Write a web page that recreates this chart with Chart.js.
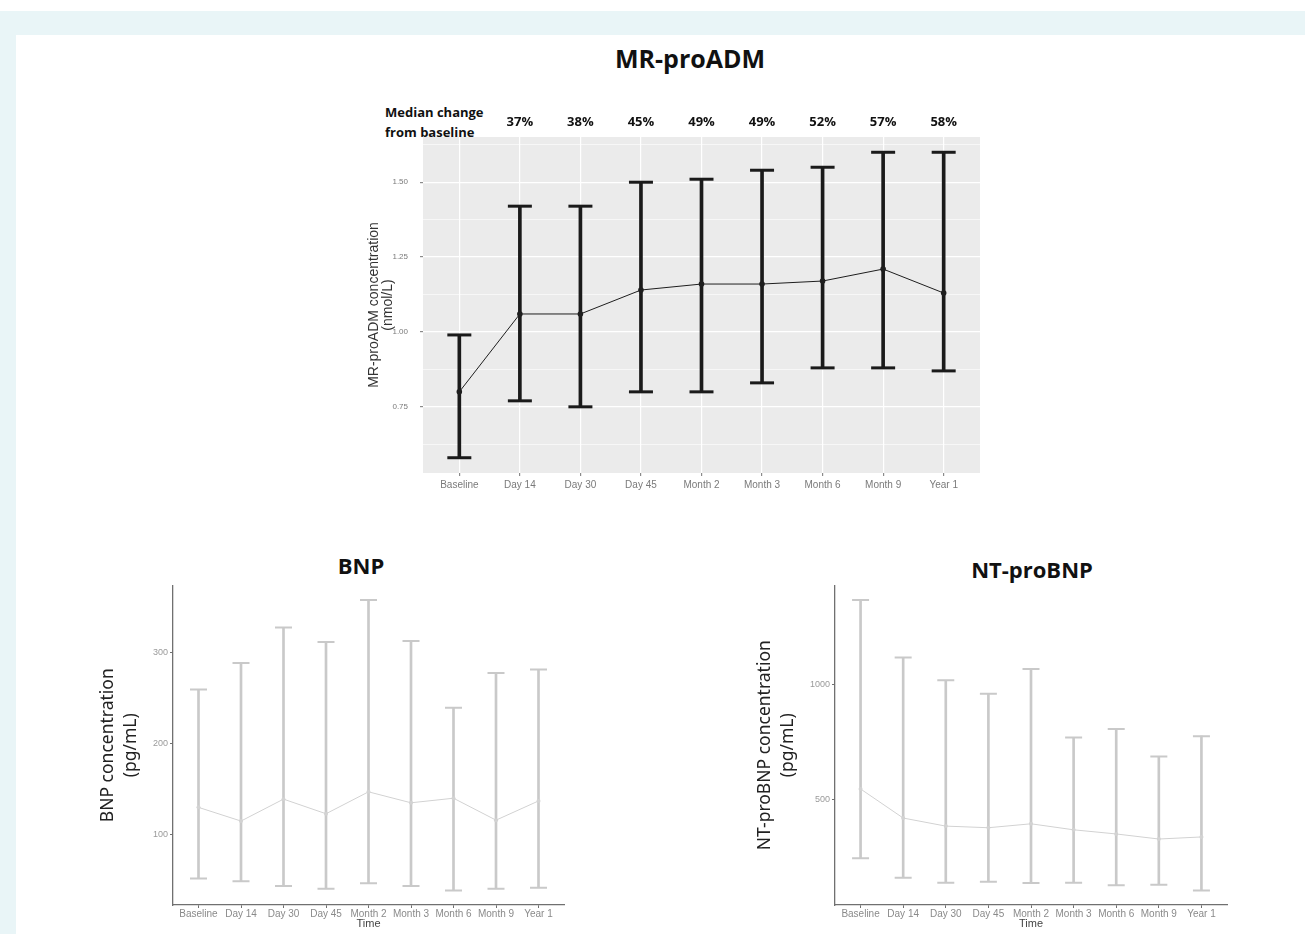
<!DOCTYPE html>
<html lang="en">
<head>
<meta charset="UTF-8">
<title>MR-proADM, BNP and NT-proBNP over time</title>
<script src="https://cdn.jsdelivr.net/npm/chart.js"></script>
<style>
  body { margin: 0; background: #ffffff; width: 1305px; height: 934px; overflow: hidden; position: relative; font-family: "Liberation Sans", Arial, sans-serif; }
  .frame { position: absolute; left: 0; top: 11px; right: 0; bottom: 0; background: #e9f5f7; }
  .panel { position: absolute; left: 16px; top: 24px; right: 0; bottom: 0; background: #ffffff; }
  .box { position: absolute; }
  .title { position: absolute; font-family: "Open Sans", sans-serif; font-weight: 700; color: #111; transform: translate(-50%, -50%); white-space: nowrap; }
  .median-note { position: absolute; left: 385px; top: 102px; font-family: "Open Sans", sans-serif; font-weight: 700; font-size: 13px; line-height: 20px; color: #111; }
</style>
</head>
<body>
<div class="frame"><div class="panel"></div></div>

<div class="title" style="left:690px; top:58px; font-size:25px;">MR-proADM</div>
<div class="median-note">Median change<br>from baseline</div>
<div class="box" style="left:340px; top:90px; width:660px; height:410px;"><canvas id="admChart" width="660" height="410"></canvas></div>

<div class="title" style="left:361px; top:565px; font-size:22px;">BNP</div>
<div class="box" style="left:90px; top:575px; width:490px; height:355px;"><canvas id="bnpChart" width="490" height="355"></canvas></div>

<div class="title" style="left:1032px; top:569px; font-size:22px;">NT-proBNP</div>
<div class="box" style="left:750px; top:575px; width:490px; height:355px;"><canvas id="ntChart" width="490" height="355"></canvas></div>

<script>
// time points and values
const timepoints = ['Baseline', 'Day 14', 'Day 30', 'Day 45', 'Month 2', 'Month 3', 'Month 6', 'Month 9', 'Year 1'];
const changeLabels = ['37%', '38%', '45%', '49%', '49%', '52%', '57%', '58%'];

const admMedian = [0.80, 1.06, 1.06, 1.14, 1.16, 1.16, 1.17, 1.21, 1.13];
const admLow = [0.58, 0.77, 0.75, 0.80, 0.80, 0.83, 0.88, 0.88, 0.87];
const admHigh = [0.99, 1.42, 1.42, 1.50, 1.51, 1.54, 1.55, 1.60, 1.60];
const admTicks = [0.75, 1.00, 1.25, 1.50];

const bnpMedian = [130, 115, 139, 123, 147, 135, 140, 116, 137];
const bnpLow = [52, 49, 44, 41, 47, 44, 39, 41, 42];
const bnpHigh = [259, 288, 327, 311, 357, 312, 239, 277, 281];
const bnpTicks = [100, 200, 300];

const ntMedian = [546, 420, 385, 378, 395, 369, 351, 329, 338];
const ntLow = [246, 161, 140, 144, 138, 140, 129, 131, 106];
const ntHigh = [1365, 1116, 1017, 959, 1066, 769, 806, 687, 775];
const ntTicks = [500, 1000];

// ggplot style 5% expansion of the data range
function expandedRange(low, high) {
    const lo = Math.min(...low), hi = Math.max(...high);
    const pad = (hi - lo) * 0.05;
    return [lo - pad, hi + pad];
}

// one median line, caps and stems for an error bar series
function errorDatasets(median, low, high, c) {
    return [
        {
            type: 'line',
            data: median.map((v, i) => ({ x: i, y: v })),
            borderColor: c.line, borderWidth: 1,
            pointRadius: c.point, pointBackgroundColor: c.line, pointBorderWidth: 0
        },
        {
            type: 'line', showLine: false,
            data: low.map((v, i) => ({ x: i, y: v })).concat(high.map((v, i) => ({ x: i, y: v }))),
            pointStyle: 'line', pointRadius: c.cap, pointBorderWidth: c.width, pointBorderColor: c.bar
        },
        {
            type: 'bar',
            data: low.map((v, i) => ({ x: i, y: [v, high[i]] })),
            barThickness: c.width, backgroundColor: c.bar, borderWidth: 0
        }
    ];
}

const xTicksAtCategories = scale => { scale.ticks = timepoints.map((t, i) => ({ value: i })); };

const panelBackground = {
    id: 'panelBackground',
    beforeDraw(chart) {
        const a = chart.chartArea, ctx = chart.ctx;
        ctx.save();
        ctx.fillStyle = '#ebebeb';
        ctx.fillRect(a.left, a.top, a.right - a.left, a.bottom - a.top);
        ctx.restore();
    }
};

const changeRow = {
    id: 'changeRow',
    afterDraw(chart) {
        const ctx = chart.ctx, x = chart.scales.x;
        ctx.save();
        ctx.font = 'bold 13px "Open Sans", sans-serif';
        ctx.fillStyle = '#111';
        ctx.textAlign = 'center';
        ctx.textBaseline = 'middle';
        changeLabels.forEach((t, i) => ctx.fillText(t, x.getPixelForValue(i + 1), 32));
        ctx.restore();
    }
};

Chart.defaults.animation = false;
Chart.defaults.plugins.legend.display = false;
Chart.defaults.plugins.tooltip.enabled = false;

// MR-proADM
const admRange = expandedRange(admLow, admHigh);
const admGrid = [];
for (let v = 0.625; v < admRange[1]; v += 0.125) admGrid.push(v);
const isMajor = v => admTicks.some(t => Math.abs(t - v) < 1e-6);

new Chart(document.getElementById('admChart'), {
    data: {
        datasets: errorDatasets(admMedian, admLow, admHigh,
            { line: '#1e1e1e', bar: '#1a1a1a', point: 2.8, cap: 12, width: 3 })
    },
    options: {
        responsive: false,
        layout: { padding: { top: 47, right: 20 } },
        scales: {
            x: {
                type: 'linear', min: -0.6, max: 8.6, offset: false,
                afterBuildTicks: xTicksAtCategories,
                afterFit: s => { s.height = 27; },
                border: { display: false },
                grid: { offset: false, color: '#ffffff', lineWidth: 1.2, tickColor: '#8a8a8a', tickLength: 3 },
                ticks: {
                    autoSkip: false, maxRotation: 0, padding: 3, color: '#7a7a7a',
                    font: { family: '"Liberation Sans", Arial, sans-serif', size: 10 },
                    callback: v => timepoints[v]
                }
            },
            y: {
                min: admRange[0], max: admRange[1],
                afterBuildTicks: s => { s.ticks = admGrid.map(v => ({ value: v })); },
                afterFit: s => { s.width = 83; },
                border: { display: false },
                grid: {
                    color: '#ffffff', tickLength: 3,
                    lineWidth: c => isMajor(c.tick.value) ? 1.2 : 0.6,
                    tickColor: c => isMajor(c.tick.value) ? '#8a8a8a' : 'rgba(0,0,0,0)'
                },
                ticks: {
                    autoSkip: false, padding: 12, color: '#7a7a7a',
                    font: { family: '"Liberation Sans", Arial, sans-serif', size: 8 },
                    callback: v => isMajor(v) ? v.toFixed(2) : ''
                },
                title: {
                    display: true, text: ['MR-proADM concentration', '(nmol/L)'],
                    color: '#333', padding: { top: 27, bottom: 0 },
                    font: { family: '"Liberation Sans", Arial, sans-serif', size: 14, lineHeight: 1.0 }
                }
            }
        }
    },
    plugins: [panelBackground, changeRow]
});

// BNP and NT-proBNP share one look
function greyChart(id, median, low, high, ticks, title, yWidth, padRight, titlePad) {
    const range = expandedRange(low, high);
    new Chart(document.getElementById(id), {
        data: {
            datasets: errorDatasets(median, low, high,
                { line: '#d2d2d2', bar: '#c9c9c9', point: 2, cap: 8.5, width: 2 })
        },
        options: {
            responsive: false,
            layout: { padding: { top: 10, right: padRight } },
            scales: {
                x: {
                    type: 'linear', min: -0.6, max: 8.6, offset: false,
                    afterBuildTicks: xTicksAtCategories,
                    afterFit: s => { s.height = 25; },
                    border: { display: true, color: '#707070', width: 1.3 },
                    grid: { offset: false, drawOnChartArea: false, tickColor: '#707070', tickLength: 3 },
                    ticks: {
                        autoSkip: false, maxRotation: 0, padding: 0, color: '#8a8a8a',
                        font: { family: '"Liberation Sans", Arial, sans-serif', size: 10 },
                        callback: v => timepoints[v]
                    },
                    title: {
                        display: true, text: 'Time', color: '#444', padding: 0,
                        font: { family: '"Liberation Sans", Arial, sans-serif', size: 11, lineHeight: 1.05 }
                    }
                },
                y: {
                    min: range[0], max: range[1],
                    afterBuildTicks: s => { s.ticks = ticks.map(v => ({ value: v })); },
                    afterFit: s => { s.width = yWidth; },
                    border: { display: true, color: '#707070', width: 1.3 },
                    grid: { drawOnChartArea: false, tickColor: '#707070', tickLength: 3 },
                    ticks: {
                        autoSkip: false, padding: 2, color: '#9a9a9a',
                        font: { family: '"Liberation Sans", Arial, sans-serif', size: 9 },
                        callback: v => String(v)
                    },
                    title: {
                        display: true, text: [title, '(pg/mL)'], color: '#222',
                        padding: { top: titlePad, bottom: 0 },
                        font: { family: '"Noto Sans", sans-serif', size: 17.5, lineHeight: 1.3 }
                    }
                }
            }
        }
    });
}

greyChart('bnpChart', bnpMedian, bnpLow, bnpHigh, bnpTicks, 'BNP concentration', 83, 16, 6.5);
greyChart('ntChart', ntMedian, ntLow, ntHigh, ntTicks, 'NT-proBNP concentration', 85, 13, 3.5);
</script>
</body>
</html>
